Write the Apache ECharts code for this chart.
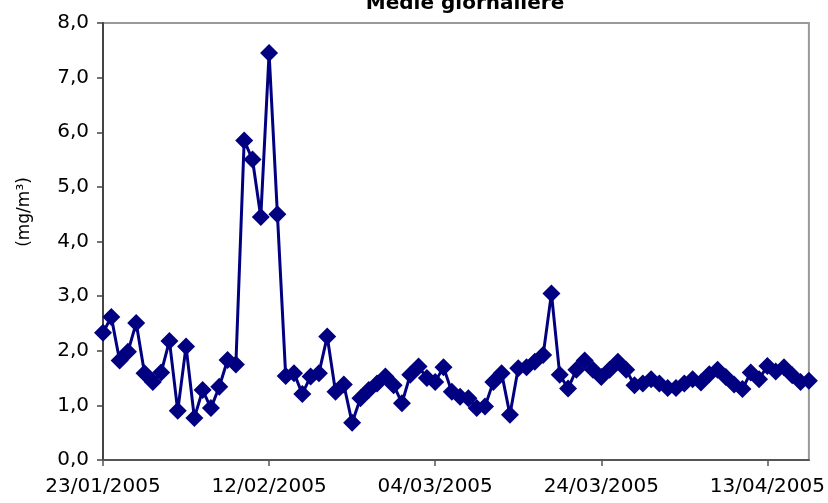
<!DOCTYPE html>
<html>
<head>
<meta charset="utf-8">
<script src="https://cdn.jsdelivr.net/npm/echarts@6/dist/echarts.min.js"></script>
<style>
html,body{margin:0;padding:0;background:#fff;}
#c{width:828px;height:503px;}
</style>
</head>
<body>
<div id="c"></div>
<script>
// Daily means, one per day starting 23/01/2005 (day 0) to 18/04/2005 (day 85)
const values = [
  2.33, 2.62, 1.82, 1.98, 2.51, 1.59, 1.43, 1.60, 2.18, 0.90,
  2.08, 0.77, 1.28, 0.95, 1.34, 1.83, 1.75, 5.85, 5.50, 4.45,
  7.45, 4.50, 1.54, 1.59, 1.21, 1.53, 1.59, 2.26, 1.25, 1.38,
  0.68, 1.13, 1.28, 1.40, 1.53, 1.37, 1.04, 1.56, 1.71, 1.50,
  1.43, 1.70, 1.25, 1.16, 1.13, 0.95, 0.98, 1.43, 1.59, 0.83,
  1.68, 1.70, 1.80, 1.92, 3.05, 1.56, 1.31, 1.65, 1.82, 1.65,
  1.52, 1.65, 1.80, 1.65, 1.37, 1.40, 1.48, 1.40, 1.32, 1.32,
  1.40, 1.48, 1.42, 1.57, 1.65, 1.52, 1.38, 1.30, 1.60, 1.48,
  1.72, 1.62, 1.70, 1.55, 1.43, 1.45
];
const tickDays = [0, 20, 40, 60, 80];
const tickLabels = ['23/01/2005', '12/02/2005', '04/03/2005', '24/03/2005', '13/04/2005'];

const seriesData = values.map((v, i) => [i, v]);
const FONT = 'DejaVu Sans';

const chart = echarts.init(document.getElementById('c'), null, {renderer: 'canvas'});
chart.setOption({
  animation: false,
  backgroundColor: '#fff',
  title: {
    text: 'Medie giornaliere',
    left: 460, top: -11,
    textAlign: 'center',
    textStyle: {fontFamily: FONT, fontWeight: 'bold', fontSize: 20, color: '#000'}
  },
  grid: {
    left: 103, right: 18, top: 23, bottom: 43,
    show: true, borderColor: '#999', borderWidth: 2, backgroundColor: '#fff'
  },
  xAxis: {
    type: 'value', min: 0, max: 85, interval: 20,
    splitLine: {show: false},
    axisLine: {onZero: false, lineStyle: {color: '#555', width: 2}},
    axisTick: {show: true, length: 6, lineStyle: {color: '#555', width: 1.5}, customValues: tickDays},
    axisLabel: {
      customValues: tickDays,
      formatter: v => { const k = tickDays.indexOf(v); return k >= 0 ? tickLabels[k] : ''; },
      fontFamily: FONT, fontSize: 20, color: '#000', margin: 17
    }
  },
  yAxis: {
    type: 'value', min: 0, max: 8, interval: 1,
    splitLine: {show: false},
    axisLine: {show: true, lineStyle: {color: '#444', width: 2}},
    axisTick: {show: true, length: 6, lineStyle: {color: '#444', width: 1.5}},
    axisLabel: {
      formatter: v => v.toFixed(1).replace('.', ','),
      fontFamily: FONT, fontSize: 20, color: '#000', margin: 14
    }
  },
  graphic: [{
    type: 'text', x: 25, y: 212, rotation: Math.PI / 2,
    style: {text: '(mg/m³)', fontFamily: FONT, fontSize: 17, fill: '#000', align: 'center', verticalAlign: 'middle'}
  }],
  series: [{
    type: 'line',
    data: seriesData,
    symbol: 'diamond',
    symbolSize: 18,
    lineStyle: {color: '#000080', width: 3},
    itemStyle: {color: '#000080'},
    clip: false
  }]
});
</script>
</body>
</html>
